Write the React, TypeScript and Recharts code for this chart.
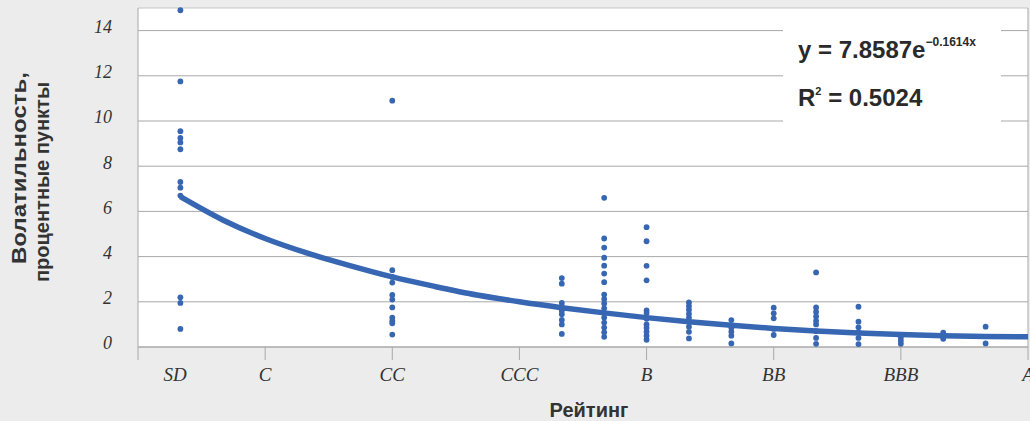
import {
  CartesianGrid,
  ComposedChart,
  Line,
  ReferenceLine,
  Scatter,
  XAxis,
  YAxis,
} from "recharts";

// ---------------------------------------------------------------------------
// Data
// ---------------------------------------------------------------------------

const ratingLabels = ["SD", "C", "CC", "CCC", "B", "BB", "BBB", "A"];
const ratingTicks = [0, 3, 6, 9, 12, 15, 18, 21];
const volatilityTicks = [0, 2, 4, 6, 8, 10, 12, 14];

// rating notch (x) of each column of observations
const notchPositions = [1, 6, 10, 11, 12, 13, 14, 15, 16, 17, 18, 19, 20];

// volatility observations, one list per notch above
const volatilityByNotch = [
  [14.9, 11.75, 9.55, 9.25, 9.05, 8.75, 7.3, 7.05, 6.7, 2.2, 1.95, 0.8],
  [10.9, 3.4, 3.1, 2.85, 2.3, 2.1, 1.75, 1.3, 1.15, 1.05, 0.55],
  [3.05, 2.8, 1.95, 1.78, 1.6, 1.45, 1.2, 1.0, 0.58],
  [6.6, 4.8, 4.4, 3.95, 3.6, 3.25, 2.87, 2.32, 2.12, 1.93, 1.71, 1.5, 1.3, 1.08, 0.86, 0.65, 0.45],
  [5.3, 4.68, 3.59, 2.95, 1.62, 1.5, 1.25, 1.0, 0.85, 0.68, 0.5, 0.32],
  [1.97, 1.81, 1.65, 1.47, 1.3, 1.12, 0.9, 0.67, 0.38],
  [1.19, 0.85, 0.68, 0.5, 0.16],
  [1.74, 1.49, 1.27, 0.8, 0.53],
  [3.3, 1.75, 1.55, 1.35, 1.15, 1.0, 0.7, 0.4, 0.14],
  [1.78, 1.12, 0.87, 0.65, 0.4, 0.13],
  [0.42, 0.28, 0.14],
  [0.63, 0.55, 0.47, 0.36],
  [0.9, 0.16],
];

// exponential trend line
const trendNotches = [1, 2, 3, 4, 5, 6, 7, 8, 9, 10, 11, 12, 13, 14, 15, 16, 17, 18, 19, 20, 21];
const trendValues = [
  6.65, 5.62, 4.8, 4.15, 3.6, 3.1, 2.68, 2.3, 2.0, 1.74, 1.51, 1.3, 1.12, 0.96,
  0.82, 0.71, 0.62, 0.55, 0.5, 0.47, 0.45,
];

const points = notchPositions.flatMap((x, i) =>
  volatilityByNotch[i].map((y) => ({ x, y }))
);
const trend = trendNotches.map((x, i) => ({ x, y: trendValues[i] }));

// ---------------------------------------------------------------------------
// Styles
// ---------------------------------------------------------------------------

const BLUE = "#3767b3";
const GRID = "#a9a9a9";
const TEXT = "#333333";
const SERIF = "'Liberation Serif', 'Times New Roman', serif";
const SANS = "'Liberation Sans', Arial, sans-serif";

// ---------------------------------------------------------------------------
// Ticks and labels
// ---------------------------------------------------------------------------

function RatingTick({ x, y, index }: any) {
  return (
    <text
      x={x + (index === 0 ? 37 : 0)}
      y={y}
      dy="0.78em"
      textAnchor="middle"
      fill={TEXT}
      fontFamily={SERIF}
      fontStyle="italic"
      fontSize={19}
    >
      {ratingLabels[index]}
    </text>
  );
}

function VolatilityTick({ x, y, payload }: any) {
  return (
    <text
      x={x}
      y={y - 4}
      dy="0.355em"
      textAnchor="end"
      fill={TEXT}
      fontFamily={SERIF}
      fontStyle="italic"
      fontSize={18}
    >
      {payload.value}
    </text>
  );
}

function XTitle({ viewBox }: any) {
  return (
    <text
      x={viewBox.x + viewBox.width / 2 + 6}
      y={417}
      textAnchor="middle"
      fill={TEXT}
      fontFamily={SANS}
      fontWeight="bold"
      fontSize={20}
    >
      Рейтинг
    </text>
  );
}

function YTitle() {
  return (
    <g fill={TEXT} fontFamily={SANS} fontWeight="bold" fontSize={21}>
      <text
        transform="translate(26 168) rotate(-90)"
        textAnchor="middle"
        textLength={192}
        lengthAdjust="spacingAndGlyphs"
      >
        Волатильность,
      </text>
      <text
        transform="translate(49 182) rotate(-90)"
        textAnchor="middle"
        textLength={200}
        lengthAdjust="spacingAndGlyphs"
      >
        процентные пункты
      </text>
    </g>
  );
}

function Dot({ cx, cy }: any) {
  return <circle cx={cx} cy={cy} r={2.9} fill={BLUE} />;
}

// ---------------------------------------------------------------------------
// Chart
// ---------------------------------------------------------------------------

export default function App() {
  return (
    <div
      style={{
        position: "relative",
        width: 1030,
        height: 421,
        background: "#ececec",
      }}
    >
      <style>{`body { margin: 0; }`}</style>
      <ComposedChart
        width={1030}
        height={421}
        margin={{ top: 8, right: 2, left: 0, bottom: 0 }}
      >
        <CartesianGrid
          vertical={false}
          fill="#ffffff"
          stroke={GRID}
          horizontalValues={volatilityTicks}
        />
        <XAxis
          type="number"
          dataKey="x"
          domain={[0, 21]}
          ticks={ratingTicks}
          interval={0}
          height={74}
          tickSize={13}
          tickMargin={6}
          stroke={GRID}
          tick={<RatingTick />}
          label={<XTitle />}
        />
        <YAxis
          type="number"
          dataKey="y"
          domain={[0, 15]}
          ticks={volatilityTicks}
          interval={0}
          width={138}
          tickLine={false}
          tickMargin={20}
          stroke={GRID}
          tick={<VolatilityTick />}
          label={<YTitle />}
        />
        <ReferenceLine y={15} stroke="#c4c4c4" />
        <ReferenceLine x={21} stroke={GRID} />
        <Scatter
          data={points}
          shape={<Dot />}
          isAnimationActive={false}
        />
        <Line
          data={trend}
          dataKey="y"
          type="monotone"
          stroke={BLUE}
          strokeWidth={5.5}
          dot={false}
          activeDot={false}
          isAnimationActive={false}
        />
      </ComposedChart>
      <svg
        width={218}
        height={116}
        style={{ position: "absolute", left: 783, top: 12 }}
      >
        <rect width={218} height={116} fill="#ffffff" />
        <g fill="#2a2a2a" fontFamily={SANS} fontWeight="bold" fontSize={24}>
          <text x={15} y={46}>
            y = 7.8587e
            <tspan fontSize={12} dy={-12}>
              −0.1614x
            </tspan>
          </text>
          <text x={15} y={94}>
            R
            <tspan fontSize={11} dy={-11}>
              2
            </tspan>
            <tspan dy={11}> = 0.5024</tspan>
          </text>
        </g>
      </svg>
    </div>
  );
}
